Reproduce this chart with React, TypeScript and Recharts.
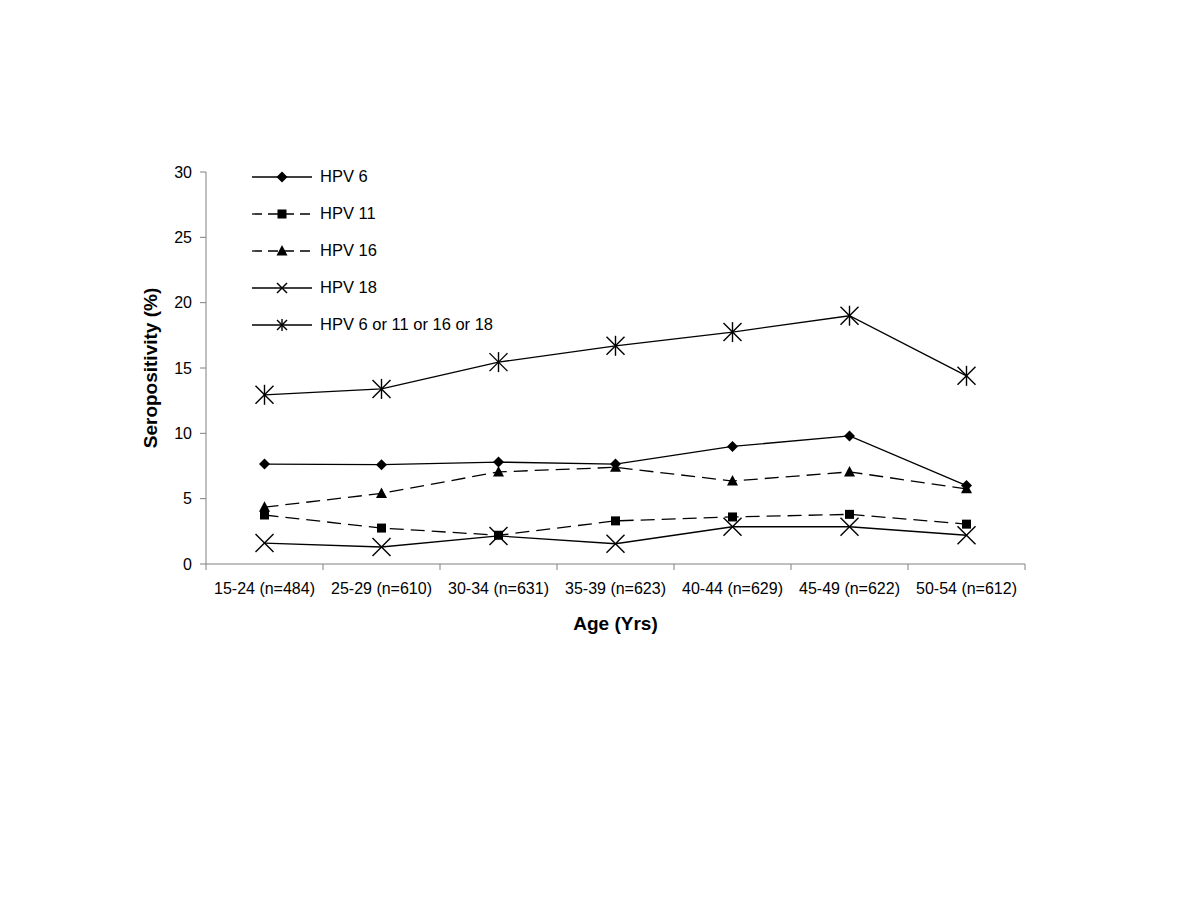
import { LineChart, Line, XAxis, YAxis, Legend, Label } from "recharts";

const AGE_GROUPS = [
  "15-24 (n=484)",
  "25-29 (n=610)",
  "30-34 (n=631)",
  "35-39 (n=623)",
  "40-44 (n=629)",
  "45-49 (n=622)",
  "50-54 (n=612)",
];

const HPV6 = [7.65, 7.6, 7.8, 7.65, 9.0, 9.8, 6.0];
const HPV11 = [3.75, 2.75, 2.2, 3.3, 3.6, 3.8, 3.05];
const HPV16 = [4.35, 5.4, 7.05, 7.4, 6.35, 7.05, 5.75];
const HPV18 = [1.6, 1.3, 2.15, 1.55, 2.85, 2.85, 2.2];
const HPV_ANY = [12.95, 13.4, 15.45, 16.7, 17.75, 19.0, 14.4];

const Y_TICKS = [0, 5, 10, 15, 20, 25, 30];
const BOUNDARY_TICKS = [0, 1, 2, 3, 4, 5, 6, 7];

const data = AGE_GROUPS.map((name, i) => ({
  name,
  idx: i + 0.5,
  hpv6: HPV6[i],
  hpv11: HPV11[i],
  hpv16: HPV16[i],
  hpv18: HPV18[i],
  any: HPV_ANY[i],
}));

type Kind = "diamond" | "square" | "triangle" | "cross" | "star";

const SERIES: { key: string; name: string; kind: Kind; dashed: boolean }[] = [
  { key: "hpv6", name: "HPV 6", kind: "diamond", dashed: false },
  { key: "hpv11", name: "HPV 11", kind: "square", dashed: true },
  { key: "hpv16", name: "HPV 16", kind: "triangle", dashed: true },
  { key: "hpv18", name: "HPV 18", kind: "cross", dashed: false },
  { key: "any", name: "HPV 6 or 11 or 16 or 18", kind: "star", dashed: false },
];

const DASH = "14 7";
const FONT = "'Liberation Sans', Arial, sans-serif";

const Marker = ({ kind, cx, cy, big }: { kind: Kind; cx: number; cy: number; big: boolean }) => {
  if (kind === "diamond") {
    const r = 5.5;
    return <polygon points={`${cx},${cy - r} ${cx + r},${cy} ${cx},${cy + r} ${cx - r},${cy}`} fill="#000" />;
  }
  if (kind === "square") {
    const r = 4.5;
    return <rect x={cx - r} y={cy - r} width={r * 2} height={r * 2} fill="#000" />;
  }
  if (kind === "triangle") {
    return <polygon points={`${cx},${cy - 6} ${cx + 5.5},${cy + 4.5} ${cx - 5.5},${cy + 4.5}`} fill="#000" />;
  }
  const r = big ? 9 : 5;
  const lines = [
    <line key="a" x1={cx - r} y1={cy - r} x2={cx + r} y2={cy + r} stroke="#000" strokeWidth={1.4} />,
    <line key="b" x1={cx - r} y1={cy + r} x2={cx + r} y2={cy - r} stroke="#000" strokeWidth={1.4} />,
  ];
  if (kind === "star") {
    lines.push(<line key="c" x1={cx} y1={cy - r - 1} x2={cx} y2={cy + r + 1} stroke="#000" strokeWidth={1.4} />);
  }
  return <g>{lines}</g>;
};

const LegendBox = () => (
  <div style={{ fontFamily: FONT, fontSize: 16.5 }}>
    {SERIES.map((s) => (
      <div key={s.key} style={{ display: "flex", alignItems: "center", height: 37 }}>
        <svg width={68} height={20}>
          <line
            x1={0}
            y1={10}
            x2={60}
            y2={10}
            stroke="#000"
            strokeWidth={1.3}
            strokeDasharray={s.dashed ? "10 6" : undefined}
          />
          <Marker kind={s.kind} cx={30} cy={10} big={false} />
        </svg>
        <span>{s.name}</span>
      </div>
    ))}
  </div>
);

export default function App() {
  return (
    <div style={{ position: "absolute", left: 0, top: 0, background: "#fff" }}>
      <LineChart
        width={1200}
        height={900}
        data={data}
        margin={{ top: 172, right: 175, bottom: 0, left: 0 }}
      >
        <XAxis
          xAxisId="a"
          type="number"
          dataKey="idx"
          domain={[0, 7]}
          ticks={BOUNDARY_TICKS}
          tickFormatter={() => ""}
          stroke="#808080"
          tickSize={6}
          height={1}
        />
        <XAxis
          xAxisId="b"
          dataKey="name"
          scale="band"
          axisLine={false}
          tickLine={false}
          interval={0}
          tick={{ fill: "#000", fontSize: 16, fontFamily: FONT }}
          tickMargin={12}
          height={335}
        >
          <Label
            value="Age (Yrs)"
            position="insideTop"
            offset={52}
            style={{ fill: "#000", fontSize: 19, fontWeight: "bold", fontFamily: FONT }}
          />
        </XAxis>
        <YAxis
          domain={[0, 30]}
          ticks={Y_TICKS}
          interval={0}
          width={206}
          stroke="#808080"
          tickSize={6}
          tickMargin={8}
          tick={{ fill: "#000", fontSize: 16, fontFamily: FONT }}
        >
          <Label
            value="Seropositivity (%)"
            angle={-90}
            position="insideRight"
            offset={56}
            style={{ fill: "#000", fontSize: 19, fontWeight: "bold", fontFamily: FONT, textAnchor: "middle" }}
          />
        </YAxis>
        <Legend
          layout="vertical"
          align="center"
          verticalAlign="middle"
          content={<LegendBox />}
          wrapperStyle={{ left: 252, top: 158, width: 320 }}
        />
        {SERIES.map((s) => (
          <Line
            key={s.key}
            xAxisId="b"
            dataKey={s.key}
            name={s.name}
            stroke="#000"
            strokeWidth={1.3}
            strokeDasharray={s.dashed ? DASH : undefined}
            isAnimationActive={false}
            dot={(p: any) => <Marker key={`${s.key}-${p.index}`} kind={s.kind} cx={p.cx} cy={p.cy} big={true} />}
            activeDot={false}
          />
        ))}
      </LineChart>
    </div>
  );
}
